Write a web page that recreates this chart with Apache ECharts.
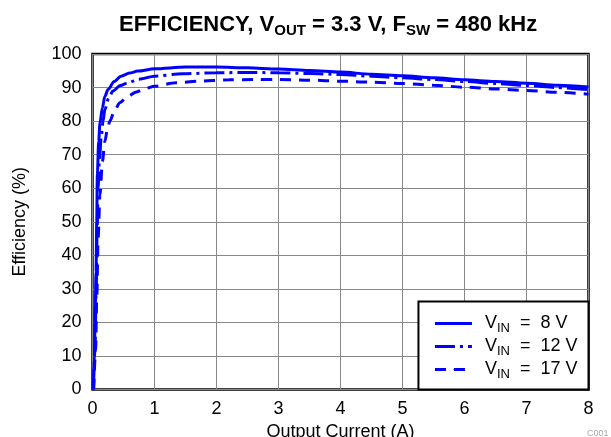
<!DOCTYPE html>
<html>
<head>
<meta charset="utf-8">
<script src="https://cdn.jsdelivr.net/npm/echarts@6/dist/echarts.min.js"></script>
<style>
  html, body { margin: 0; padding: 0; background: #fff; }
  #chart { width: 611px; height: 437px; }
</style>
</head>
<body>
<div id="chart"></div>
<script>
// 曲线数据: [输出电流 A, 效率 %]
const vin8 = [
  [0.01, 0], [0.03, 10], [0.045, 25], [0.057, 35], [0.068, 50], [0.078, 64],
  [0.1, 74], [0.12, 79.5], [0.16, 84], [0.2, 87.4], [0.25, 89.4], [0.35, 91.8],
  [0.46, 93.4], [0.6, 94.3], [0.73, 94.9], [1.0, 95.6], [1.5, 96.1], [2.0, 96.1],
  [2.5, 95.9], [3.0, 95.5], [3.5, 95.1], [4.0, 94.6], [4.5, 94.0], [5.0, 93.5],
  [5.5, 92.9], [6.0, 92.3], [6.5, 91.8], [7.0, 91.3], [7.5, 90.7], [8.0, 90.2]
]
const vin12 = [
  [0.015, 0], [0.04, 12], [0.06, 30], [0.075, 48], [0.09, 60], [0.11, 68],
  [0.14, 75], [0.17, 80], [0.2, 83.5], [0.26, 86.8], [0.33, 89], [0.45, 90.6],
  [0.57, 91.4], [0.75, 92.5], [1.0, 93.4], [1.45, 94.1], [2.0, 94.4], [2.5, 94.5],
  [3.0, 94.4], [3.5, 94.2], [4.0, 93.9], [4.5, 93.4], [5.0, 92.9], [5.5, 92.4],
  [6.0, 91.8], [6.5, 91.2], [7.0, 90.6], [7.5, 90.0], [8.0, 89.4]
]
const vin17 = [
  [0.02, 0], [0.05, 12], [0.07, 28], [0.09, 45], [0.12, 58], [0.16, 68],
  [0.2, 74], [0.24, 77.5], [0.28, 80], [0.36, 83.3], [0.44, 85.5], [0.57, 87.4],
  [0.71, 88.7], [0.85, 89.7], [1.0, 90.4], [1.35, 91.4], [1.7, 91.9], [2.2, 92.3],
  [2.6, 92.4], [3.0, 92.4], [3.5, 92.2], [4.0, 91.9], [4.5, 91.6], [5.0, 91.2],
  [5.5, 90.7], [6.0, 90.1], [6.5, 89.6], [7.0, 89.1], [7.5, 88.6], [8.0, 88.0]
]
const seriesNames = ['8 V', '12 V', '17 V']

const font = 'Arial, "Liberation Sans", sans-serif'
const blue = '#0000ff'

function curve (name, data, dash) {
  return {
    name: name,
    type: 'line',
    data: data,
    symbol: 'none',
    smooth: 0.3,
    smoothMonotone: 'x',
    lineStyle: { color: blue, width: 3, type: dash },
    itemStyle: { color: blue }
  }
}

const option = {
  animation: false,
  backgroundColor: '#fff',
  textStyle: { fontFamily: font },
  title: {
    text: 'EFFICIENCY, V{s|OUT} = 3.3 V, F{s|SW} = 480 kHz',
    left: 114,
    top: 7,
    textStyle: {
      fontFamily: font, fontSize: 22, fontWeight: 'bold', color: '#000',
      rich: {
        s: { fontFamily: font, fontSize: 15, fontWeight: 'bold', color: '#000', padding: [11, 0, 0, 0] }
      }
    }
  },
  grid: {
    left: 92.5, right: 22.5, top: 54, bottom: 47.5,
    outerBoundsMode: 'none',
    containLabel: false,
    show: true, borderColor: '#000', borderWidth: 2.5, backgroundColor: '#fff'
  },
  xAxis: {
    type: 'value', min: 0, max: 8, interval: 1,
    name: 'Output Current (A)', nameLocation: 'middle', nameGap: 32,
    nameTextStyle: { fontFamily: font, fontSize: 18, color: '#000' },
    axisLine: { show: false },
    axisTick: { show: false },
    axisLabel: { fontFamily: font, fontSize: 18, color: '#000', margin: 11 },
    splitLine: { lineStyle: { color: '#888', width: 1 } }
  },
  yAxis: {
    type: 'value', min: 0, max: 100, interval: 10,
    name: 'Efficiency (%)', nameLocation: 'middle', nameGap: 63,
    nameTextStyle: { fontFamily: font, fontSize: 18, color: '#000' },
    axisLine: { show: false },
    axisTick: { show: false },
    axisLabel: { fontFamily: font, fontSize: 18, color: '#000', margin: 11 },
    splitLine: { lineStyle: { color: '#888', width: 1 } }
  },
  legend: {
    data: seriesNames,
    orient: 'vertical',
    right: 22.5,
    bottom: 47.5,
    padding: [13, 11, 9, 15],
    itemGap: 3,
    itemWidth: 37,
    itemHeight: 1,
    backgroundColor: '#fff',
    borderColor: '#000',
    borderWidth: 2,
    borderRadius: 0,
    lineStyle: { width: 3 },
    formatter: name => '{p|V}{s|IN}{v|  =  ' + name + '}',
    textStyle: {
      fontFamily: font, fontSize: 18, color: '#000',
      rich: {
        p: { fontFamily: font, fontSize: 18, color: '#000', padding: [0, 0, 0, 8] },
        v: { fontFamily: font, fontSize: 18, color: '#000' },
        s: { fontFamily: font, fontSize: 13, color: '#000', padding: [9, 0, 0, 0] }
      }
    }
  },
  graphic: [{
    type: 'text', left: 587, top: 429,
    style: { text: 'C001', fontSize: 9, fill: '#aaa', fontFamily: font }
  }],
  series: [
    curve(seriesNames[0], vin8, 'solid'),
    curve(seriesNames[1], vin12, [20, 5, 3, 5]),
    curve(seriesNames[2], vin17, [11, 8])
  ]
}

const myChart = echarts.init(document.getElementById('chart'))
myChart.setOption(option)
</script>
</body>
</html>
